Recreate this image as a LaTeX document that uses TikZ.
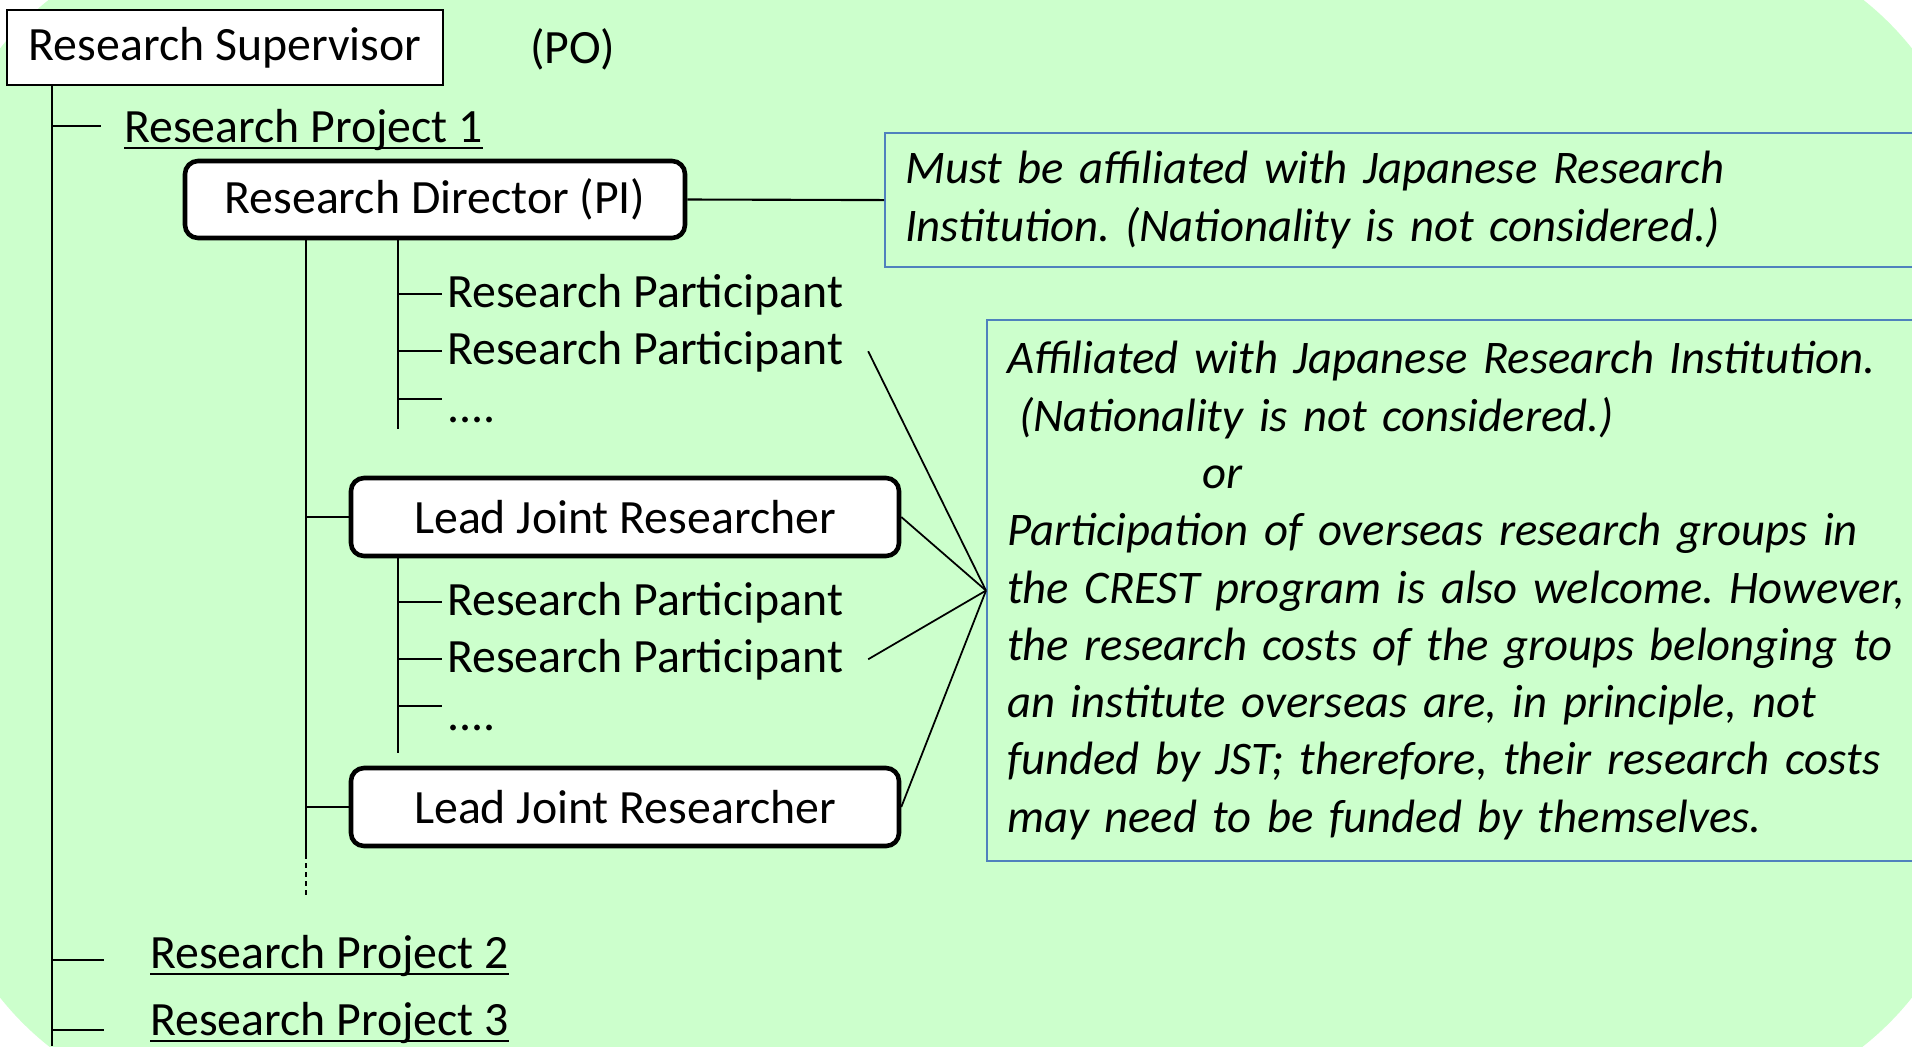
\documentclass[tikz,border=0pt]{standalone}
\usepackage{fontspec}
\setmainfont{Carlito}
\frenchspacing
\definecolor{bggreen}{HTML}{CCFFCC}
\definecolor{noteblue}{HTML}{4F81BD}
\tikzset{
rolebox/.style={
	draw, fill=white, line width=1.3pt, rounded corners=1.3mm,
	inner sep=0pt, minimum width=54.8mm, minimum height=7.8mm},
member/.style={anchor=base west, inner sep=0pt},
notebox/.style={
	draw=noteblue, line width=0.6pt, anchor=north west, align=left,
	text width=100mm, inner xsep=2mm,
	font=\fontsize{13.3pt}{16.3pt}\selectfont\itshape}
}
\newcommand{\projtitle}[1]{\setbox0\hbox{#1}\rlap{\usebox0}\rule[-1.9pt]{\wd0}{0.6pt}}

\begin{document}
\begin{tikzpicture}[x=0.1mm, y=-0.1mm, line width=0.6pt,
	font=\fontsize{13.6pt}{16.3pt}\selectfont]
	\useasboundingbox (0,0) rectangle (1912,1046);
	\clip (0,0) rectangle (1912,1046);
	\fill[bggreen, rounded corners=30mm] (-65,-65) rectangle (1977,1111);

	\node[draw, fill=white, inner sep=0pt, minimum width=43.6mm,
		minimum height=7.5mm] (sup) at (225,47.5) {Research Supervisor};
	\node[member] (po) at (529,63) {(PO)};
	\node[member] (proj1) at (123,142) {\projtitle{Research Project 1}};
	\node[rolebox, minimum width=50mm, minimum height=7.7mm] (dir)
		at (435,199.5) {Research Director (PI)};
	\node[notebox, minimum height=13.4mm] (note1) at (884,132)
		{Must be affiliated with Japanese Research\\
		Institution. (Nationality is not considered.)};

	\node[member] (pa1) at (446,307) {Research Participant};
	\node[member] (pa2) at (446,364) {Research Participant};
	\node[member] (pa3) at (446,422) {....};
	\node[rolebox] (lead1) at (625,517) {Lead Joint Researcher};
	\node[member] (pb1) at (446,615) {Research Participant};
	\node[member] (pb2) at (446,672) {Research Participant};
	\node[member] (pb3) at (446,730) {....};
	\node[rolebox] (lead2) at (625,807) {Lead Joint Researcher};

	\node[member] (proj2) at (149,968) {\projtitle{Research Project 2}};
	\node[member] (proj3) at (149,1035) {\projtitle{Research Project 3}};

	\node[notebox, minimum height=54.1mm] (note2) at (986,319)
		{Affiliated with Japanese Research Institution.\\
		\hspace{1.2mm}(Nationality is not considered.)\\
		\hspace{19.5mm}or\\
		Participation of overseas research groups in\\
		the CREST program is also welcome. However,\\
		the research costs of the groups belonging to\\
		an institute overseas are, in principle, not\\
		funded by JST; therefore, their research costs\\
		may need to be funded by themselves.};

	\coordinate (trunk) at (52,1046);
	\coordinate (dtrunk) at (306,854);
	\coordinate (g1) at (398,429);
	\coordinate (g1dots) at (398,399);
	\coordinate (g2) at (398,753);
	\coordinate (g2dots) at (398,706);

	\draw (trunk |- sup.south) -- (trunk);
	\draw (trunk |- 0,126) -- ++(49,0);
	\draw (trunk |- 0,960) -- ++(52,0);
	\draw (trunk |- 0,1030) -- ++(52,0);

	\draw (dtrunk |- dir.south) -- (dtrunk);
	\draw[dash pattern=on 0.5mm off 0.4mm] (dtrunk) -- ++(0,43);
	\draw (dtrunk |- lead1.west) -- (lead1.west);
	\draw (dtrunk |- lead2.west) -- (lead2.west);

	\draw (g1 |- dir.south) -- (g1);
	\draw (g2 |- lead1.south) -- (g2);
	\foreach \p in {pa1,pa2} \draw (g1 |- \p.west) -- ([xshift=-0.4mm]\p.west);
	\foreach \p in {pb1,pb2} \draw (g2 |- \p.west) -- ([xshift=-0.4mm]\p.west);
	\draw (g1dots) -- ++(44,0);
	\draw (g2dots) -- ++(44,0);

	\draw (dir.east) -- (note1.west);
	\draw[line width=0.5pt] ([xshift=2.4mm]pa2.east) -- (note2.west);
	\draw[line width=0.5pt] (lead1.east) -- (note2.west);
	\draw[line width=0.5pt] ([xshift=2.4mm]pb2.east) -- (note2.west);
	\draw[line width=0.5pt] (lead2.east) -- (note2.west);
\end{tikzpicture}
\end{document}
